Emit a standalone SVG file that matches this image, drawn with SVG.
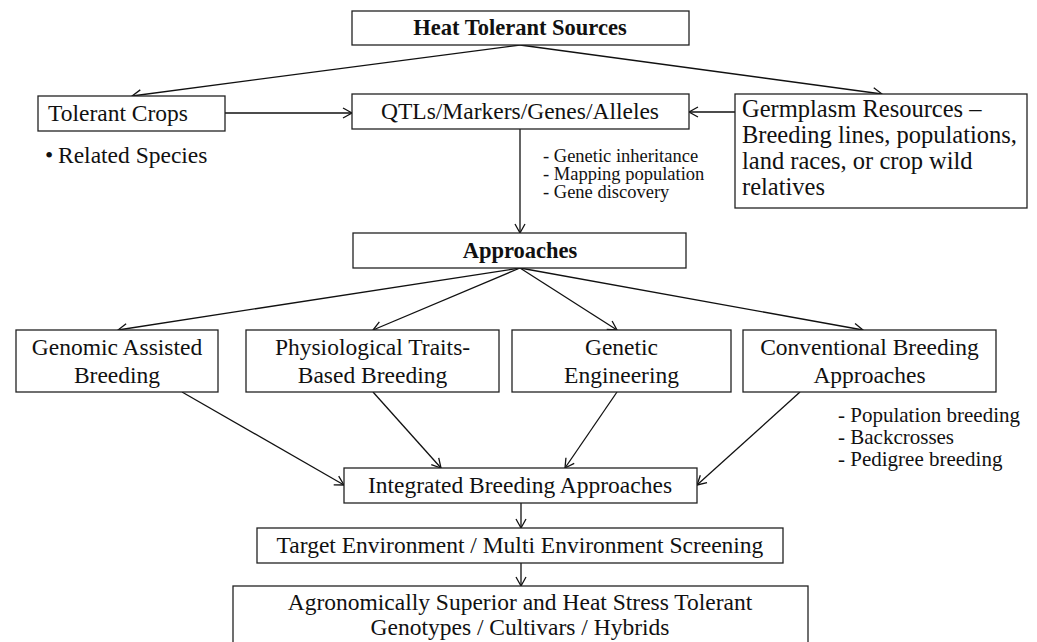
<svg xmlns="http://www.w3.org/2000/svg" width="1037" height="642" viewBox="0 0 1037 642">
<style>
.box{fill:#fff;stroke:#222;stroke-width:1.3}
.t{font-family:"Liberation Serif","Times New Roman",serif;font-size:23.5px;fill:#111}
.c{text-anchor:middle}
.b{font-weight:bold;font-size:22.5px}
.n{font-size:18.5px}
.n2{font-size:21px}
.g{font-size:24.5px}
.ln{stroke:#111;stroke-width:1.3;fill:none;marker-end:url(#ah)}
</style>
<defs>
<marker id="ah" markerUnits="userSpaceOnUse" markerWidth="14" markerHeight="14" viewBox="-12 -7 14 14" refX="0" refY="0" orient="auto">
<path d="M-9,-5 L0,0 L-9,5" fill="none" stroke="#111" stroke-width="1.3"/>
</marker>
</defs>
<rect width="1037" height="642" fill="#fff"/>
<g id="connectors">
<line class="ln" x1="520" y1="45" x2="132" y2="96"/>
<line class="ln" x1="520" y1="45" x2="882" y2="94"/>
<line class="ln" x1="225" y1="113" x2="352" y2="113"/>
<line class="ln" x1="735" y1="112" x2="689" y2="112"/>
<line class="ln" x1="520" y1="129" x2="520" y2="233"/>
<line class="ln" x1="520" y1="268" x2="118" y2="330"/>
<line class="ln" x1="520" y1="268" x2="373" y2="330"/>
<line class="ln" x1="520" y1="268" x2="617" y2="330"/>
<line class="ln" x1="520" y1="268" x2="863" y2="330"/>
<line class="ln" x1="182" y1="392" x2="344" y2="485"/>
<line class="ln" x1="373" y1="392" x2="441" y2="468"/>
<line class="ln" x1="617" y1="392" x2="565" y2="468"/>
<line class="ln" x1="800" y1="392" x2="697" y2="485"/>
<line class="ln" x1="521" y1="503" x2="521" y2="528"/>
<line class="ln" x1="521" y1="563" x2="521" y2="586"/>
</g>
<g id="heat">
<rect class="box" x="352" y="11" width="337" height="34"/>
<text class="t c b" x="520" y="35">Heat Tolerant Sources</text>
</g>
<g id="tolerant-crops">
<rect class="box" x="38" y="96" width="187" height="35"/>
<text class="t" x="48" y="121">Tolerant Crops</text>
</g>
<g id="related-species">
<text class="t" x="45" y="163">•<tspan x="58">Related Species</tspan></text>
</g>
<g id="qtl">
<rect class="box" x="352" y="94" width="337" height="35"/>
<text class="t c" x="520" y="119">QTLs/Markers/Genes/Alleles</text>
</g>
<g id="qtl-notes">
<text class="t n" x="543" y="162">- Genetic inheritance</text>
<text class="t n" x="543" y="180">- Mapping population</text>
<text class="t n" x="543" y="198">- Gene discovery</text>
</g>
<g id="germplasm">
<rect class="box" x="735" y="94" width="292" height="114"/>
<text class="t g" x="742" y="117">Germplasm Resources –</text>
<text class="t g" x="742" y="143">Breeding lines, populations,</text>
<text class="t g" x="742" y="169">land races, or crop wild</text>
<text class="t g" x="742" y="195">relatives</text>
</g>
<g id="approaches">
<rect class="box" x="353" y="233" width="333" height="35"/>
<text class="t c b" x="520" y="258">Approaches</text>
</g>
<g id="genomic">
<rect class="box" x="16" y="330" width="202" height="62"/>
<text class="t c" x="117" y="355">Genomic Assisted</text>
<text class="t c" x="117" y="383">Breeding</text>
</g>
<g id="physiological">
<rect class="box" x="246" y="330" width="253" height="62"/>
<text class="t c" x="372.5" y="355">Physiological Traits-</text>
<text class="t c" x="372.5" y="383">Based Breeding</text>
</g>
<g id="genetic">
<rect class="box" x="512" y="330" width="219" height="62"/>
<text class="t c" x="621.5" y="355">Genetic</text>
<text class="t c" x="621.5" y="383">Engineering</text>
</g>
<g id="conventional">
<rect class="box" x="743" y="330" width="253" height="62"/>
<text class="t c" x="869.5" y="355">Conventional Breeding</text>
<text class="t c" x="869.5" y="383">Approaches</text>
</g>
<g id="conventional-notes">
<text class="t n2" x="838" y="422">- Population breeding</text>
<text class="t n2" x="838" y="444">- Backcrosses</text>
<text class="t n2" x="838" y="466">- Pedigree breeding</text>
</g>
<g id="integrated">
<rect class="box" x="344" y="468" width="353" height="35"/>
<text class="t c" x="520" y="493">Integrated Breeding Approaches</text>
</g>
<g id="target">
<rect class="box" x="257" y="528" width="526" height="35"/>
<text class="t c" x="520" y="553">Target Environment / Multi Environment Screening</text>
</g>
<g id="final">
<rect class="box" x="233" y="586" width="575" height="70"/>
<text class="t c" x="520" y="610">Agronomically Superior and Heat Stress Tolerant</text>
<text class="t c" x="520" y="635">Genotypes / Cultivars / Hybrids</text>
</g>
</svg>
